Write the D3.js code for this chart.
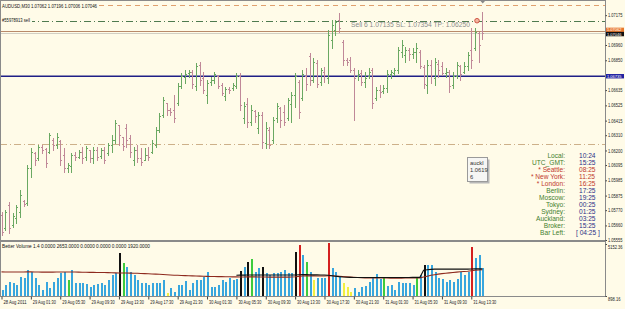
<!DOCTYPE html>
<html><head><meta charset="utf-8">
<script src="https://cdn.jsdelivr.net/npm/d3@7"></script>
<style>
html,body{margin:0;padding:0;background:#fffbe8;overflow:hidden;}
svg{display:block;font-family:"Liberation Sans",Arial,sans-serif;}
</style></head><body>
<svg id="c" width="625" height="309"></svg>
<script>
// ---------- DATA ----------
const symbolHeader = "AUDUSD,M30  1.07062 1.07196 1.07006 1.07046";
const orderTag = "#55978913 sell";
const orderText = "Sell 6   1.07135   SL:  1.07354   TP:  1.06250";
const volumeHeader = "Better Volume 1.4 0.0000 2653.0000 0.0000 0.0000 0.0000 1920.0000";

const openP = [1.05736,1.05642,1.05808,1.05664,1.05714,1.05758,1.05837,1.05822,1.06074,1.06182,
1.06146,1.06226,1.06211,1.06190,1.06276,1.06240,1.06269,1.06168,1.06074,1.06089,
1.06168,1.06154,1.06190,1.06154,1.06204,1.06146,1.06204,1.06161,1.06204,1.06182,
1.06240,1.06276,1.06384,1.06298,1.06362,1.06290,1.06132,1.06204,1.06146,1.06132,
1.06168,1.06190,1.06240,1.06348,1.06456,1.06542,1.06492,1.06492,1.06542,1.06665,
1.06730,1.06758,1.06766,1.06665,1.06816,1.06722,1.06600,1.06694,1.06708,1.06737,
1.06672,1.06593,1.06643,1.06650,1.06665,1.06737,1.06434,1.06535,1.06406,1.06485,
1.06362,1.06456,1.06254,1.06348,1.06276,1.06434,1.06506,1.06478,1.06434,1.06535,
1.06600,1.06694,1.06578,1.06737,1.06881,1.06708,1.06830,1.06694,1.06766,1.06722,
1.06996,1.07068,1.07140,1.06982,1.06852,1.06852,1.06780,1.06737,1.06758,1.06694,
1.06737,1.06780,1.06578,1.06636,1.06629,1.06650,1.06751,1.06758,1.06780,1.06910,
1.06888,1.06924,1.06895,1.06910,1.06910,1.06802,1.06672,1.06816,1.06722,1.06823,
1.06809,1.06758,1.06766,1.06672,1.06737,1.06809,1.06766,1.06809,1.06924,1.06938,
1.07046,1.07062];
const highP = [1.05758,1.05772,1.05830,1.05750,1.05808,1.05916,1.05844,1.06096,1.06218,1.06190,
1.06240,1.06240,1.06218,1.06326,1.06290,1.06326,1.06276,1.06218,1.06110,1.06182,
1.06190,1.06204,1.06226,1.06233,1.06204,1.06226,1.06226,1.06218,1.06226,1.06254,
1.06312,1.06420,1.06384,1.06298,1.06391,1.06312,1.06226,1.06240,1.06218,1.06218,
1.06226,1.06276,1.06370,1.06470,1.06586,1.06542,1.06506,1.06600,1.06686,1.06758,
1.06780,1.06780,1.06780,1.06830,1.06838,1.06766,1.06708,1.06730,1.06766,1.06744,
1.06686,1.06658,1.06658,1.06686,1.06758,1.06758,1.06550,1.06578,1.06528,1.06492,
1.06478,1.06478,1.06406,1.06370,1.06442,1.06542,1.06514,1.06528,1.06578,1.06622,
1.06758,1.06708,1.06780,1.06794,1.06902,1.06866,1.06852,1.06794,1.06802,1.07068,
1.07140,1.07140,1.07190,1.06996,1.06866,1.06874,1.06794,1.06780,1.06780,1.06766,
1.06794,1.06794,1.06658,1.06672,1.06672,1.06780,1.06780,1.06794,1.06946,1.06996,
1.06946,1.06938,1.06938,1.06974,1.06924,1.06816,1.06852,1.06852,1.06866,1.06852,
1.06838,1.06794,1.06780,1.06766,1.06838,1.06816,1.06838,1.06910,1.07082,1.07082,
1.07054,1.07196];
const lowP = [1.05592,1.05628,1.05606,1.05650,1.05678,1.05722,1.05801,1.05808,1.06010,1.06096,
1.06132,1.06182,1.06082,1.06182,1.06204,1.06218,1.06096,1.06046,1.06046,1.06046,
1.06132,1.06146,1.06110,1.06132,1.06118,1.06110,1.06132,1.06146,1.06110,1.06168,
1.06190,1.06254,1.06240,1.06204,1.06226,1.06154,1.06096,1.06118,1.06096,1.06132,
1.06132,1.06182,1.06226,1.06334,1.06442,1.06456,1.06456,1.06406,1.06528,1.06650,
1.06686,1.06730,1.06650,1.06636,1.06672,1.06614,1.06542,1.06672,1.06686,1.06650,
1.06600,1.06564,1.06614,1.06636,1.06650,1.06492,1.06398,1.06370,1.06384,1.06406,
1.06326,1.06218,1.06218,1.06218,1.06254,1.06406,1.06370,1.06384,1.06420,1.06406,
1.06514,1.06434,1.06564,1.06636,1.06672,1.06694,1.06658,1.06672,1.06694,1.06686,
1.06938,1.07032,1.07054,1.06816,1.06816,1.06766,1.06420,1.06708,1.06672,1.06658,
1.06722,1.06506,1.06564,1.06586,1.06614,1.06622,1.06722,1.06744,1.06758,1.06874,
1.06838,1.06852,1.06866,1.06838,1.06794,1.06650,1.06614,1.06686,1.06672,1.06730,
1.06744,1.06730,1.06622,1.06650,1.06722,1.06708,1.06758,1.06780,1.06794,1.06924,
1.06838,1.07006];
const closeP = [1.05614,1.05758,1.05642,1.05729,1.05794,1.05880,1.05815,1.06074,1.06190,1.06132,
1.06226,1.06204,1.06110,1.06312,1.06240,1.06298,1.06132,1.06074,1.06096,1.06168,
1.06154,1.06190,1.06146,1.06218,1.06146,1.06204,1.06154,1.06204,1.06132,1.06240,
1.06276,1.06398,1.06312,1.06233,1.06276,1.06190,1.06204,1.06146,1.06118,1.06168,
1.06154,1.06254,1.06348,1.06449,1.06564,1.06492,1.06478,1.06434,1.06665,1.06737,
1.06751,1.06766,1.06679,1.06809,1.06708,1.06636,1.06686,1.06708,1.06751,1.06665,
1.06614,1.06643,1.06636,1.06672,1.06737,1.06528,1.06521,1.06406,1.06492,1.06449,
1.06456,1.06262,1.06362,1.06240,1.06420,1.06521,1.06420,1.06406,1.06564,1.06600,
1.06737,1.06478,1.06751,1.06679,1.06708,1.06838,1.06679,1.06780,1.06744,1.07032,
1.07104,1.07126,1.07082,1.06852,1.06838,1.06780,1.06722,1.06751,1.06694,1.06722,
1.06766,1.06542,1.06636,1.06622,1.06650,1.06751,1.06766,1.06780,1.06924,1.06960,
1.06924,1.06895,1.06910,1.06938,1.06809,1.06679,1.06816,1.06744,1.06838,1.06780,
1.06758,1.06766,1.06665,1.06737,1.06816,1.06751,1.06809,1.06888,1.06852,1.07054,
1.06960,1.07046];

const volumes = [1389,1798,2043,1961,1798,2452,2370,3025,2861,2370,
1798,1389,2043,1552,2043,2370,2779,2861,2207,3025,
1961,1961,1961,1880,1634,1798,1880,1961,1798,2207,
2616,2779,4415,3597,3270,2861,2616,2207,1961,1961,
1798,1961,1961,1961,2207,1143,1552,1225,1798,1798,
2125,1389,1961,2207,2207,2452,2861,1634,1634,1798,
2207,2043,2370,2207,2289,2943,3270,3679,3925,2861,
3188,3270,2779,2616,2779,2779,2861,3025,2779,2779,
4497,5070,4252,3679,2861,2207,2370,2370,2370,5200,
3188,2861,2452,1961,1634,1225,1552,1225,1634,1716,
2043,2452,2698,2289,2370,1716,1798,1389,2043,1961,
1961,1961,1798,2452,2616,3434,3434,3434,2861,2370,
2289,2043,2207,2043,2289,2861,2616,2861,4906,4006,
4252,3188];
const churnBars = [18,33,68,83,104,113];
const climaxUpBars = [81,89,128];
const climaxLowBars = [32,65,67,71,80,115];
const lowVolBars = [45,85,93,94,95];

const volAvg = [2870,2865,2861,2858,2860,2862,2866,2870,2868,2864,
2860,2855,2852,2850,2853,2856,2860,2862,2858,2861,
2858,2852,2846,2840,2835,2830,2826,2820,2815,2810,
2800,2790,2785,2780,2775,2770,2765,2755,2745,2730,
2715,2700,2690,2675,2660,2640,2620,2600,2590,2575,
2565,2555,2545,2535,2525,2515,2505,2495,2490,2485,
2480,2475,2470,2465,2460,2455,2455,2460,2465,2460,
2455,2450,2448,2445,2442,2440,2440,2442,2445,2448,
2470,2500,2530,2545,2550,2545,2540,2535,2530,2560,
2550,2530,2510,2490,2470,2450,2430,2410,2395,2385,
2380,2375,2372,2370,2368,2365,2362,2360,2360,2362,
2365,2370,2372,2376,2380,2450,2520,2590,2640,2690,
2730,2760,2790,2820,2850,2880,2900,2920,2960,3000,
3020,3040];
const volAvg2 = [null,null,null,null,null,null,null,null,null,null,
null,null,null,null,null,null,null,null,null,null,
null,null,null,null,null,null,null,null,null,null,
null,null,null,null,null,null,null,null,null,null,
null,null,null,null,null,null,null,null,null,null,
null,null,null,null,null,null,null,null,null,null,
null,null,null,null,2600,2605,2610,2615,2620,2620,
2618,2616,2615,2614,2613,2612,2612,2613,2614,2615,
2620,2640,2650,2650,2640,2630,2625,2620,2615,2600,
2560,2520,2480,2450,2430,2420,2415,2412,2410,2410,
2410,2410,2410,2410,2410,2410,2410,2410,2410,2410,
2412,2415,2418,2420,2425,3000,3050,3080,3100,3100,
3100,3100,3100,3100,3100,3100,3100,3100,3110,3120,
3120,3120];

const timeLabels = ["28 Aug 2011","29 Aug 01:30","29 Aug 05:30","29 Aug 09:30","29 Aug 13:30","29 Aug 17:30",
"29 Aug 21:30","30 Aug 01:30","30 Aug 05:30","30 Aug 09:30","30 Aug 13:30","30 Aug 17:30","30 Aug 21:30",
"31 Aug 01:30","31 Aug 05:30","31 Aug 09:30","31 Aug 13:30"];
const timeLabelBars = [0,8,16,24,32,40,48,56,64,72,80,88,96,104,112,120,128];

const priceTicks = [1.07175,1.06960,1.06850,1.06635,1.06525,1.06415,1.06310,1.06200,1.06095,1.05985,1.05875,1.05770,1.05660,1.05555];
const volTicks = [5152.36, 898.16];

const alertLevel = 1.07248;
const sellLevel = 1.07135;
const askLevel = 1.07062;
const bidLevel = 1.07046;
const blueLevel = 1.06735;
const tpLevel = 1.06250;

const clockLabels = ["Local:","UTC_GMT:","* Seattle:","* New York:","* London:","Berlin:","Moscow:","Tokyo:","Sydney:","Auckland:","Broker:","Bar Left:"];
const clockTimes = ["10:24","15:25","08:25","11:25","16:25","17:25","19:25","00:25","01:25","03:25","15:25","[ 04:25 ]"];
const clockMarket = [false,false,true,true,true,false,false,false,false,false,false,false];

const tipLines = ["auckl","1.0619","6"];

// ---------- DRAW ----------
const svg = d3.select("#c");
const BG = "#fffbe8";
svg.append("rect").attr("width",625).attr("height",309).attr("fill",BG);

const mainTop = 0, mainBot = 240, volTop = 242, volBot = 296, plotRight = 605;
const x = d3.scaleLinear().domain([0, 131]).range([1.5, 482.3]);
const y = d3.scaleLinear().domain([1.05555, 1.06960]).range([240, 45]);
const vy = d3.scaleLinear().domain([898.16, 5152.36]).range([296, 244]);

const defs = svg.append("defs");
defs.append("clipPath").attr("id","cm").append("rect").attr("x",0).attr("y",mainTop).attr("width",plotRight).attr("height",mainBot-mainTop);
defs.append("clipPath").attr("id","cv").append("rect").attr("x",0).attr("y",volTop).attr("width",plotRight).attr("height",volBot-volTop);

const main = svg.append("g").attr("clip-path","url(#cm)");
const px = i => Math.round(x(i)) + 0.5;

function fitText(sel, len) {
  return sel.attr("textLength", len).attr("lengthAdjust","spacingAndGlyphs");
}

// level lines
function hline(level, color, dash, w) {
  const yy = Math.round(y(level)) + 0.5;
  main.append("line").attr("x1",0).attr("x2",plotRight).attr("y1",yy).attr("y2",yy)
    .attr("stroke",color).attr("stroke-width",w||1).attr("stroke-dasharray",dash||null);
}
hline(alertLevel, "#e0a06e", "5,4");
hline(sellLevel, "#4f7a4f", "7,3,1,3");
hline(tpLevel, "#cdb089", "7,3,1,3");
hline(askLevel, "#b98a6a", null);
hline(bidLevel, "#d2cfc4", null);
main.append("line").attr("x1",0).attr("x2",plotRight)
  .attr("y1",y(blueLevel)).attr("y2",y(blueLevel))
  .attr("stroke","#1f1f86").attr("stroke-width",1.6);

// OHLC bars
const bars = main.append("g").attr("shape-rendering","crispEdges");
d3.range(openP.length).forEach(i => {
  const up = closeP[i] >= openP[i];
  const col = up ? "#6aa862" : "#c08898";
  const xx = px(i);
  bars.append("line").attr("x1",xx).attr("x2",xx)
    .attr("y1",y(highP[i])).attr("y2",y(lowP[i])+1).attr("stroke",col);
  const yo = Math.round(y(openP[i])) + 0.5, yc = Math.round(y(closeP[i])) + 0.5;
  bars.append("line").attr("x1",xx-1.5).attr("x2",xx).attr("y1",yo).attr("y2",yo).attr("stroke",col);
  bars.append("line").attr("x1",xx).attr("x2",xx+1.5).attr("y1",yc).attr("y2",yc).attr("stroke",col);
});

// header texts
main.append("rect").attr("x",1).attr("y",1).attr("width",98).attr("height",8).attr("fill",BG);
fitText(main.append("text").attr("x",2).attr("y",7.5).attr("font-size",5.6).attr("fill","#111"), 95).text(symbolHeader);
main.append("rect").attr("x",1).attr("y",16).attr("width",31).attr("height",8).attr("fill",BG);
fitText(main.append("text").attr("x",2).attr("y",21.5).attr("font-size",5.6).attr("fill","#111"), 28).text(orderTag);
fitText(main.append("text").attr("x",351).attr("y",27).attr("font-size",6.8).attr("fill","#8c8c8c"), 119).text(orderText);
// order marker
main.append("circle").attr("cx",477).attr("cy",y(sellLevel)).attr("r",2.3)
  .attr("fill","#f2b7a0").attr("stroke","#cc4a3a").attr("stroke-width",0.9);
main.append("path").attr("d","M480.5,1 L485,1 L482.75,3.5 Z").attr("fill","#888");

// tooltip box
const tip = svg.append("g");
tip.append("rect").attr("x",469.5).attr("y",159.5).attr("width",20).attr("height",24).attr("fill","#b8b8b8");
tip.append("rect").attr("x",467.5).attr("y",157.5).attr("width",20).attr("height",24)
  .attr("fill","#f6f6f4").attr("stroke","#9a9a9a");
tipLines.forEach((t,k) => tip.append("text").attr("x",470).attr("y",164.5 + k*7)
  .attr("font-size",5.8).attr("fill","#333").text(t));

// clock panel
const clock = svg.append("g");
clockLabels.forEach((t,k) => {
  const yy = 158.4 + k*6.98;
  clock.append("text").attr("x",565).attr("y",yy).attr("text-anchor","end")
    .attr("font-size",6.6).attr("fill", clockMarket[k] ? "#c0392b" : "#3f7f2f").text(t);
  clock.append("text").attr("x", k===11 ? 576 : 579).attr("y",yy)
    .attr("font-size",6.6).attr("fill", clockMarket[k] ? "#c0392b" : "#2a2f86").text(clockTimes[k]);
});

// main frame
svg.append("rect").attr("x",0.5).attr("y",0.5).attr("width",plotRight).attr("height",mainBot)
  .attr("fill","none").attr("stroke","#8a8a8a");

// right price axis
const pAxis = svg.append("g").attr("transform",`translate(${plotRight+0.5},0)`)
  .call(d3.axisRight(y).tickValues(priceTicks).tickFormat(d3.format(".5f")).tickSize(1.5).tickPadding(1));
pAxis.select(".domain").remove();
pAxis.selectAll("text").attr("font-size",4.8).attr("fill","#222").attr("font-family","Liberation Sans, Arial")
  .attr("textLength",14.5).attr("lengthAdjust","spacingAndGlyphs");
pAxis.selectAll("line").attr("stroke","#444");

function priceBox(level, fill, txtCol, label, dyBox) {
  const yy = y(level) + dyBox;
  svg.append("rect").attr("x",plotRight+1).attr("y",yy-2.2).attr("width",18).attr("height",4.4).attr("fill",fill);
  fitText(svg.append("text").attr("x",plotRight+2).attr("y",yy+1.6).attr("font-size",4.4).attr("fill",txtCol)
    .attr("font-family","Liberation Sans, Arial"), 14.5).text(label);
}
priceBox(askLevel, "#e8782e", "#fff", d3.format(".5f")(askLevel), -1);
priceBox(bidLevel, "#111", "#fff", d3.format(".5f")(bidLevel), 1);
priceBox(blueLevel, "#2020a0", "#fff", d3.format(".5f")(blueLevel), 0);

// ---------- volume window ----------
const vol = svg.append("g").attr("clip-path","url(#cv)");
const vColor = i => climaxUpBars.includes(i) ? "#d42020" :
  climaxLowBars.includes(i) ? "#111111" :
  churnBars.includes(i) ? "#3dcc3d" :
  lowVolBars.includes(i) ? "#f2f040" : "#38a6de";
vol.append("g").attr("shape-rendering","crispEdges").selectAll("rect").data(volumes).join("rect")
  .attr("x",(d,i)=>Math.round(x(i))-0.5).attr("width",2)
  .attr("y",d=>vy(d)).attr("height",d=>vy(0)-vy(d))
  .attr("fill",(d,i)=>vColor(i));
const ln = d3.line().defined(d=>d!=null).x((d,i)=>x(i)).y(d=>vy(d));
vol.append("path").datum(volAvg).attr("d",d3.line().x((d,i)=>x(i)).y(d=>vy(d)))
  .attr("fill","none").attr("stroke","#8e2a1e").attr("stroke-width",1.1);
vol.append("path").datum(volAvg2).attr("d",ln)
  .attr("fill","none").attr("stroke","#111").attr("stroke-width",1.1);
fitText(vol.append("text").attr("x",2).attr("y",248).attr("font-size",5.4).attr("fill","#111"), 148).text(volumeHeader);

svg.append("rect").attr("x",0.5).attr("y",volTop-0.5).attr("width",plotRight).attr("height",volBot-volTop+1)
  .attr("fill","none").attr("stroke","#8a8a8a");

const vAxis = svg.append("g").attr("transform",`translate(${plotRight+0.5},0)`)
  .call(d3.axisRight(vy).tickValues(volTicks).tickFormat(d3.format(".2f")).tickSize(1.5).tickPadding(1));
vAxis.select(".domain").remove();
vAxis.selectAll("text").attr("font-size",4.8).attr("fill","#222").attr("font-family","Liberation Sans, Arial")
  .attr("dy","0.9em").attr("textLength",(d)=> d>1000 ? 14.5 : 12.5).attr("lengthAdjust","spacingAndGlyphs");
vAxis.selectAll("line").attr("stroke","#444");

// time axis
const tAxis = svg.append("g").attr("transform",`translate(0,${volBot+0.5})`)
  .call(d3.axisBottom(x).tickValues(timeLabelBars).tickFormat((d,k)=>timeLabels[k]).tickSize(3).tickPadding(1));
tAxis.select(".domain").remove();
tAxis.selectAll("line").attr("stroke","#444");
tAxis.selectAll("text").attr("text-anchor","start").attr("dx","1.5").attr("font-size",5.4)
  .attr("fill","#222").attr("font-family","Liberation Sans, Arial")
  .attr("textLength",23).attr("lengthAdjust","spacingAndGlyphs");
</script>
</body></html>
